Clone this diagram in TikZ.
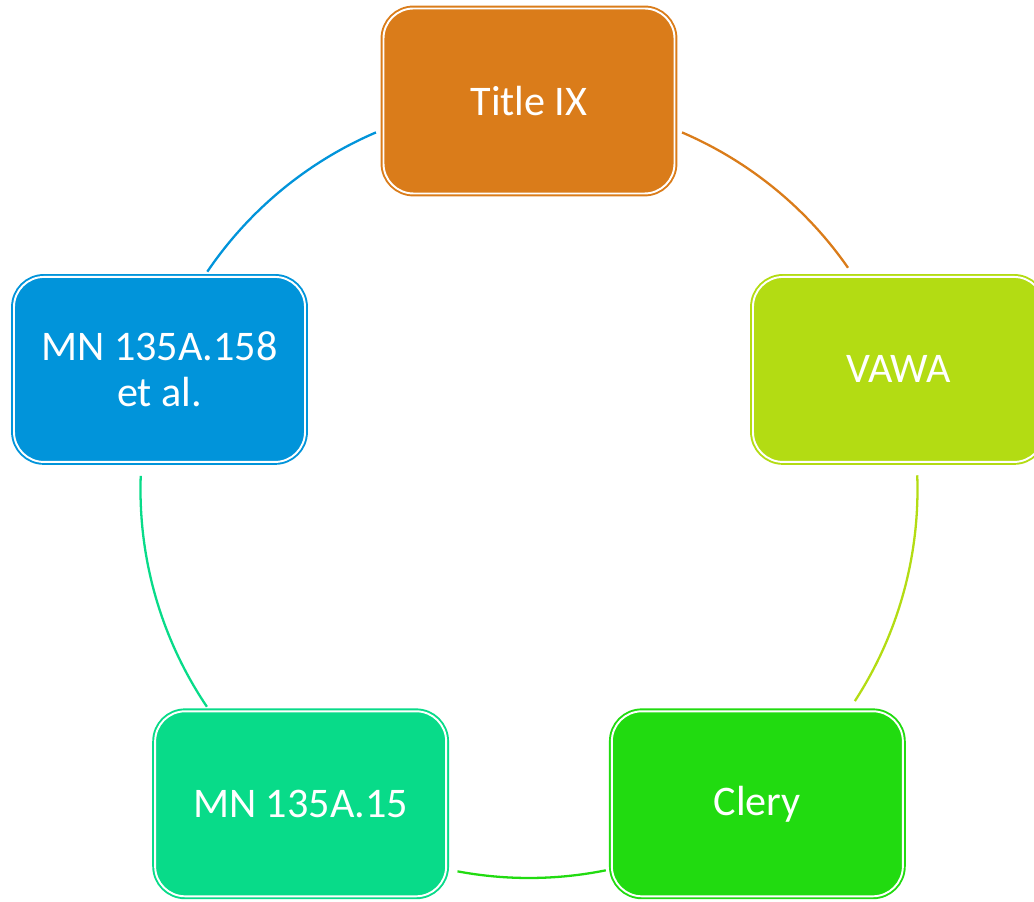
\documentclass[tikz,border=0pt]{standalone}
\usepackage{fontspec}
\setmainfont{Carlito}
\usetikzlibrary{positioning}
\definecolor{titleix}{RGB}{218,124,26}
\definecolor{vawa}{RGB}{179,220,19}
\definecolor{clery}{RGB}{33,219,16}
\definecolor{mnfifteen}{RGB}{8,219,137}
\definecolor{mnetal}{RGB}{1,148,218}
\tikzstyle{box} = [rectangle, rounded corners=0.6cm, minimum width=5.82cm, minimum height=3.7cm, text centered, align=center, text=white, line width=1.1pt, double=white, double distance=1.1pt, font=\fontsize{24}{26}\selectfont]
\tikzstyle{link} = [line width=1.3pt]
\begin{document}
\begin{tikzpicture}
			\useasboundingbox (-10.58,-8.23) rectangle (10.10,9.79);
			
			\node (title) [box, draw=titleix, fill=titleix] at (90:7.77) {Title IX};
			\node (vawa) [box, draw=vawa, fill=vawa] at (18:7.77) {VAWA};
			\node (clery) [box, draw=clery, fill=clery] at (-54:7.77) {Clery};
			\node (mn15) [box, draw=mnfifteen, fill=mnfifteen] at (-126:7.77) {MN 135A.15};
			\node (mn158) [box, draw=mnetal, fill=mnetal] at (162:7.77) {MN 135A.158\\et al.};
			
			% arc ends next to each box
			\coordinate (title-r) at (66.8:7.77);
			\coordinate (vawa-b) at (2.1:7.77);
			\coordinate (clery-l) at (-78.6:7.77);
			\coordinate (mn15-t) at (-146:7.77);
			\coordinate (mn158-t) at (145.9:7.77);
			
			\draw [link, titleix] (title-r) arc[start angle=66.8, end angle=34.8, radius=7.77];
			\draw [link, vawa] (vawa-b) arc[start angle=2.1, end angle=-33, radius=7.77];
			\draw [link, clery] (clery-l) arc[start angle=-78.6, end angle=-100.6, radius=7.77];
			\draw [link, mnfifteen] (mn15-t) arc[start angle=-146, end angle=-182, radius=7.77];
			\draw [link, mnetal] (mn158-t) arc[start angle=145.9, end angle=113.2, radius=7.77];
			\end{tikzpicture}
\end{document}
